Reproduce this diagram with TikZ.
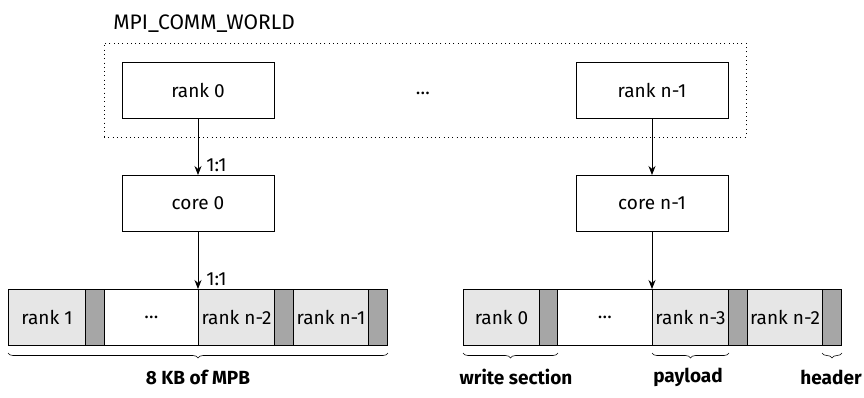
\documentclass[tikz,border=0pt]{standalone}
\usepackage{fontspec}
\setmainfont{Fira Sans}
\usetikzlibrary{arrows.meta,decorations.pathreplacing}
\definecolor{slotgray}{HTML}{E6E6E6}
\definecolor{hdrgray}{HTML}{A6A6A6}
\newcommand{\txt}{\fontsize{19}{22}\selectfont}
\tikzset{
  box/.style={draw, line width=1pt, minimum width=152pt, minimum height=56pt, inner sep=0pt},
  seg/.style={draw, line width=1pt, minimum height=56pt, inner sep=0pt, anchor=north west},
  slot/.style={seg, fill=slotgray},
  hdr/.style={seg, fill=hdrgray},
  brc/.style={decorate, decoration={brace, mirror, amplitude=5pt}, line width=0.6pt},
  lbl/.style={font=\txt\bfseries}
}
\begin{document}
\begin{tikzpicture}[x=1pt,y=-1pt,>={Stealth[length=9pt,width=7pt]},line width=0.8pt,font=\txt]
\useasboundingbox (0,0) rectangle (864,397);
% communicator
\node[draw, line width=1pt, dash pattern=on 1pt off 3.3pt, minimum width=642pt, minimum height=94pt] (world) at (425,90) {};
\node[anchor=south west, inner sep=0pt, font=\fontsize{21}{24}\selectfont] (worldlbl) at (113,33) {MPI\_COMM\_WORLD};
\node[box] (rank0) at (198,90) {rank 0};
\node[box] (rankn1) at (652,90) {rank n-1};
\node[anchor=base, inner sep=0pt] (dots) at (423,94) {…};
\node[box] (core0) at (198,203.5) {core 0};
\node[box] (coren1) at (652,203.5) {core n-1};
% MPB of core 0
\node[slot, minimum width=77pt] (l1) at (8,289) {rank 1};
\node[hdr, minimum width=19pt] (lh1) at (85,289) {};
\node[seg, minimum width=94pt] (lgap) at (104,289) {…};
\node[slot, minimum width=76pt] (l2) at (198,289) {rank n-2};
\node[hdr, minimum width=19pt] (lh2) at (274,289) {};
\node[slot, minimum width=75pt] (l3) at (293,289) {rank n-1};
\node[hdr, minimum width=19pt] (lh3) at (368,289) {};
% MPB of core n-1
\node[slot, minimum width=76pt] (r1) at (463,289) {rank 0};
\node[hdr, minimum width=18pt] (rh1) at (539,289) {};
\node[seg, minimum width=95pt] (rgap) at (557,289) {…};
\node[slot, minimum width=76pt] (r2) at (652,289) {rank n-3};
\node[hdr, minimum width=19pt] (rh2) at (728,289) {};
\node[slot, minimum width=75pt] (r3) at (747,289) {rank n-2};
\node[hdr, minimum width=19pt] (rh3) at (822,289) {};
% mappings
\draw[->] (rank0) -- (core0) node[pos=1, anchor=south west, xshift=7pt, yshift=2pt, inner sep=1pt] (m1) {1:1};
\draw[->] (core0) -- (l2.north west) node[pos=1, anchor=south west, xshift=7pt, yshift=2pt, inner sep=1pt] (m2) {1:1};
\draw[->] (rankn1) -- (coren1);
\draw[->] (coren1) -- (r2.north west);
% braces
\draw[brc] ([yshift=-7pt]l1.south west) -- ([yshift=-7pt]lh3.south east);
\draw[brc] ([yshift=-7pt]r1.south west) -- ([yshift=-7pt]rh1.south east);
\draw[brc] ([yshift=-7pt]r2.south west) -- ([yshift=-7pt]r2.south east);
\draw[brc] ([yshift=-7pt]rh3.south west) -- ([yshift=-7pt]rh3.south east);
\node[lbl] (mpb) at (198,377) {8 KB of MPB};
\node[lbl] (wsec) at (516,377) {write section};
\node[lbl] (pay) at (688,377) {payload};
\node[lbl] (head) at (831,377) {header};
\end{tikzpicture}
\end{document}
